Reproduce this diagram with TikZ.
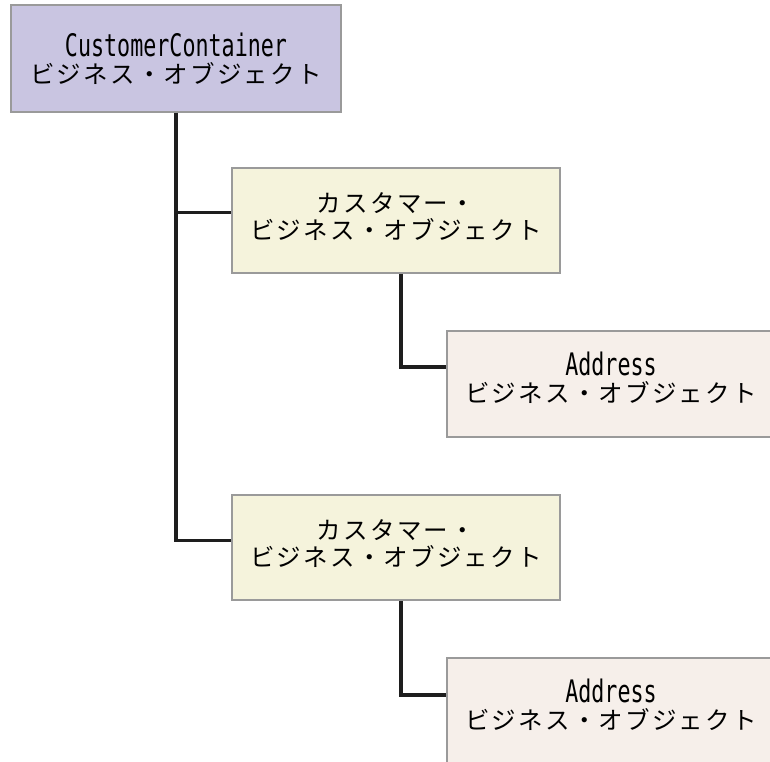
\documentclass[tikz,border=0pt]{standalone}
\usepackage{fontspec}
\newfontfamily\jpfont[LetterSpace=9]{Noto Sans CJK JP}
\newfontfamily\latinmono[FakeStretch=0.7]{DejaVu Sans Mono}
\definecolor{rootfill}{HTML}{C9C5E1}
\definecolor{custfill}{HTML}{F5F3DC}
\definecolor{addrfill}{HTML}{F6EFEA}
\definecolor{boxedge}{HTML}{9A9A9A}
\definecolor{linkcol}{HTML}{1E1E1E}
\tikzset{
  bizbox/.style={draw=boxedge, line width=1.8pt, minimum width=328pt,
    minimum height=106pt, align=center, inner sep=0pt,
    font=\fontsize{24.5}{27}\selectfont},
  link/.style={draw=linkcol, line width=3.4pt}
}
\newcommand{\jp}[1]{{\jpfont #1}}
\newcommand{\lt}[1]{{\latinmono\fontsize{31}{27}\selectfont #1}}
% extra depth that lifts a label inside its box
\newcommand{\lift}[1]{\rule[-#1]{0pt}{0pt}}
\begin{document}
\begin{tikzpicture}[x=1pt,y=-1pt]
  \useasboundingbox (0,0) rectangle (770,761);
  % business-object hierarchy
  \node[bizbox, fill=rootfill, minimum width=330pt, minimum height=107pt] (root) at (176,58.5)
    {\lt{CustomerContainer}\\\jp{ビジネス・オブジェクト}};
  \node[bizbox, fill=custfill, minimum height=105pt] (cust1) at (396,220.5)
    {\jp{カスタマー・}\\\jp{ビジネス・オブジェクト}\lift{8pt}};
  \node[bizbox, fill=addrfill] (addr1) at (611,384)
    {\lt{Address}\\\jp{ビジネス・オブジェクト}\lift{14pt}};
  \node[bizbox, fill=custfill, minimum height=105pt] (cust2) at (396,547.5)
    {\jp{カスタマー・}\\\jp{ビジネス・オブジェクト}\lift{8pt}};
  \node[bizbox, fill=addrfill] (addr2) at (611,711)
    {\lt{Address}\\\jp{ビジネス・オブジェクト}\lift{14pt}};
  % tree connectors
  \path[link] (root.south) |- ([yshift=8pt]cust1.west);
  \path[link] (root.south) |- ([yshift=7pt]cust2.west);
  \path[link] ([xshift=5pt]cust1.south) |- ([yshift=17pt]addr1.west);
  \path[link] ([xshift=5pt]cust2.south) |- ([yshift=16pt]addr2.west);
\end{tikzpicture}
\end{document}
